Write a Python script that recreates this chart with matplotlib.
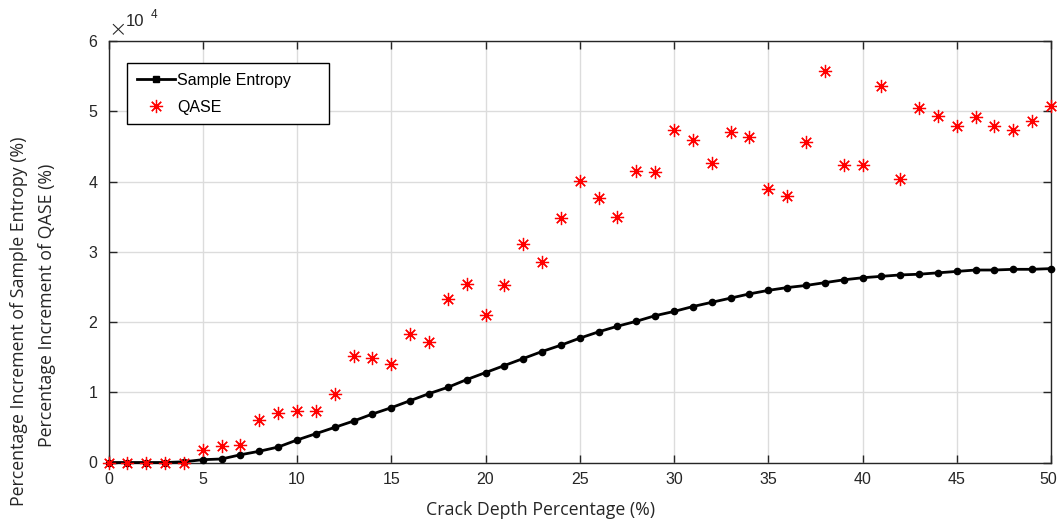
import numpy as np
import matplotlib
matplotlib.use("Agg")
import matplotlib.pyplot as plt
import matplotlib.transforms as mtransforms
from matplotlib.ticker import FuncFormatter

# Crack depth percentage
crack_depth = list(range(0, 51))

# Values in units of 10^4 %
sample_entropy = [0.00, 0.00, 0.00, 0.00, 0.01, 0.04, 0.05, 0.11, 0.16, 0.22,
                  0.32, 0.41, 0.50, 0.59, 0.69, 0.78, 0.88, 0.98, 1.07, 1.18,
                  1.28, 1.38, 1.48, 1.58, 1.67, 1.77, 1.86, 1.94, 2.01, 2.09,
                  2.15, 2.22, 2.28, 2.34, 2.40, 2.45, 2.49, 2.52, 2.56, 2.60,
                  2.63, 2.65, 2.67, 2.68, 2.70, 2.72, 2.74, 2.74, 2.75, 2.75,
                  2.76]
qase = [0.00, 0.00, 0.00, 0.00, 0.00, 0.18, 0.24, 0.25, 0.61, 0.71,
        0.74, 0.73, 0.97, 1.52, 1.49, 1.40, 1.83, 1.71, 2.33, 2.54,
        2.10, 2.52, 3.11, 2.86, 3.48, 4.01, 3.76, 3.49, 4.15, 4.13,
        4.73, 4.59, 4.27, 4.71, 4.63, 3.89, 3.79, 4.56, 5.57, 4.23,
        4.24, 5.36, 4.03, 5.04, 4.93, 4.79, 4.92, 4.79, 4.74, 4.86,
        5.07]
scale = 1e4
x_ticks = [0, 5, 10, 15, 20, 25, 30, 35, 40, 45, 50]
y_ticks = [0, 1, 2, 3, 4, 5, 6]

plt.rcParams['font.family'] = ['Liberation Sans', 'DejaVu Sans']
text_color = '#262626'
label_font = ['Open Sans', 'DejaVu Sans']

W, H = 1057, 521
fig = plt.figure(figsize=(W / 100, H / 100), dpi=100)
ax = fig.add_axes([108.5 / W, 1 - 462.5 / H, (1051 - 108.5) / W, (462.5 - 41) / H])

se_vals = np.array(sample_entropy) * scale
q_vals = np.array(qase) * scale

ax.plot(crack_depth, se_vals, color='black', linewidth=2.0, marker='o',
        markersize=4.5, label='Sample Entropy', zorder=3, clip_on=False)
ax.plot(crack_depth, q_vals, linestyle='none', marker=(8, 2, 0), color='red',
        markersize=9.5, markeredgewidth=0.9, label='QASE', zorder=4, clip_on=False)

ax.set_xlim(0, 50)
ax.set_ylim(0, 6 * scale)
ax.set_xticks(x_ticks)
ax.set_yticks([v * scale for v in y_ticks])
ax.yaxis.set_major_formatter(FuncFormatter(lambda v, p: f"{v / scale:g}"))

ax.grid(True, color='#dcdcdc', linewidth=1.0)
ax.set_axisbelow(True)
ax.tick_params(direction='in', top=True, right=True, length=6, width=1,
               colors=text_color, labelsize=11.5)
ax.tick_params(axis='x', pad=7)
ax.tick_params(axis='y', pad=8)
for s in ax.spines.values():
    s.set_color(text_color)
    s.set_linewidth(1.0)

# keep the last x tick label inside the figure, as in the reference
fig.canvas.draw()
last = ax.get_xticklabels()[-1]
last.set_transform(last.get_transform() +
                   mtransforms.ScaledTranslation(-3 / 100, 0, fig.dpi_scale_trans))

# Axis labels (placed as in the reference)
fig.text(541 / W, 1 - 510 / H, 'Crack Depth Percentage (%)', fontsize=12.8,
         color=text_color, ha='center', va='center', family=label_font)
fig.text(19 / W, 1 - 321 / H, 'Percentage Increment of Sample Entropy (%)',
         fontsize=12.8, color=text_color, ha='center', va='center', rotation=90,
         family=label_font)
fig.text(47 / W, 1 - 305 / H, 'Percentage Increment of QASE (%)',
         fontsize=12.8, color=text_color, ha='center', va='center', rotation=90,
         family=label_font)

# Exponent marker
fig.text(117.5 / W, 1 - 30 / H, '\u00d7', fontsize=16, color=text_color,
         ha='center', va='center', family=['DejaVu Sans'], fontweight='light')
fig.text(126 / W, 1 - 22 / H, '10', fontsize=12, color=text_color,
         ha='left', va='center')
fig.text(151 / W, 1 - 15.5 / H, '4', fontsize=8.5, color=text_color,
         ha='left', va='center')

leg = ax.legend(loc='upper left',
                bbox_to_anchor=(18.5 / 942.5, 0.5, 202 / 942.5, (462.5 - 63) / 421.5 - 0.5),
                mode='expand',
                fontsize=11.5, frameon=True, fancybox=False, framealpha=1,
                edgecolor='black', borderpad=0.6, handlelength=2.4,
                handletextpad=0.15, labelspacing=0.75, borderaxespad=0.0)
leg.get_frame().set_linewidth(1.0)
leg.legend_handles[0].set_marker('s')
leg.legend_handles[0].set_markersize(4)

fig.savefig('out.png', dpi=100)
